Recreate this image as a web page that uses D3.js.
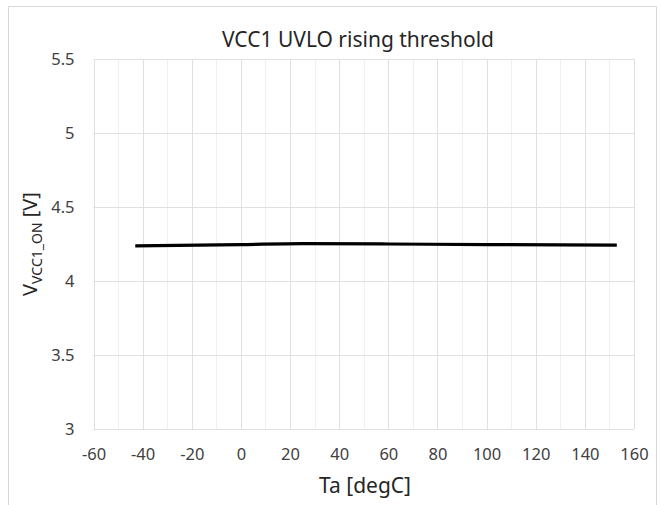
<!DOCTYPE html>
<html>
<head>
<meta charset="utf-8">
<script src="https://cdn.jsdelivr.net/npm/d3@7"></script>
<style>
  html, body { margin: 0; padding: 0; background: #fff; }
  svg { display: block; font-family: "Noto Sans", "Open Sans", sans-serif; }
</style>
</head>
<body>
<svg id="chart" width="661" height="505"></svg>
<script>
const chartTitle = "VCC1 UVLO rising threshold";
const xTitle = "Ta [degC]";
const temps = [-43, 0, 25, 60, 100, 153];
const vcc1On = [4.238, 4.246, 4.252, 4.250, 4.246, 4.243];
const xTicks = [-60, -40, -20, 0, 20, 40, 60, 80, 100, 120, 140, 160];
const xMinorTicks = d3.range(-50, 160, 20);
const yTicks = [3, 3.5, 4, 4.5, 5, 5.5];

const svg = d3.select("#chart");
const W = 661, H = 505;
const plot = { left: 93.5, right: 634, top: 59, bottom: 429 };

// outer frame
svg.append("path")
  .attr("d", `M8.5,${H} L8.5,6.5 L656.5,6.5 L656.5,${H}`)
  .attr("fill", "none").attr("stroke", "#d9d9d9").attr("stroke-width", 1);

const x = d3.scaleLinear().domain([-60, 160]).range([plot.left, plot.right]);
const y = d3.scaleLinear().domain([3, 5.5]).range([plot.bottom, plot.top]);

// minor vertical gridlines
svg.append("g").selectAll("line").data(xMinorTicks).join("line")
  .attr("x1", d => Math.round(x(d)) + 0.5).attr("x2", d => Math.round(x(d)) + 0.5)
  .attr("y1", plot.top).attr("y2", plot.bottom)
  .attr("stroke", "#f0f0f0").attr("stroke-width", 1);

// major vertical gridlines
svg.append("g").selectAll("line").data(xTicks).join("line")
  .attr("x1", d => Math.round(x(d)) + 0.5).attr("x2", d => Math.round(x(d)) + 0.5)
  .attr("y1", plot.top).attr("y2", plot.bottom)
  .attr("stroke", "#e0e0e0").attr("stroke-width", 1);

// horizontal gridlines
svg.append("g").selectAll("line").data(yTicks).join("line")
  .attr("x1", plot.left).attr("x2", plot.right)
  .attr("y1", d => Math.round(y(d)) + 0.5).attr("y2", d => Math.round(y(d)) + 0.5)
  .attr("stroke", "#e0e0e0").attr("stroke-width", 1);

// axes (labels only)
const xAxis = svg.append("g").attr("transform", `translate(0,${plot.bottom})`)
  .call(d3.axisBottom(x).tickValues(xTicks).tickSize(0).tickPadding(19).tickFormat(d => String(d)));
xAxis.select(".domain").remove();
xAxis.selectAll("text").attr("font-size", 16.5).attr("fill", "#404040")
  .attr("font-family", "\"Noto Sans\", sans-serif");

const yAxis = svg.append("g").attr("transform", `translate(${plot.left},0)`)
  .call(d3.axisLeft(y).tickValues(yTicks).tickSize(0).tickPadding(19).tickFormat(d => String(d)));
yAxis.select(".domain").remove();
yAxis.selectAll("text").attr("font-size", 16.5).attr("fill", "#404040")
  .attr("font-family", "\"Noto Sans\", sans-serif");

// data line
const line = d3.line().x((d, i) => x(temps[i])).y(d => y(d)).curve(d3.curveMonotoneX);
svg.append("path").datum(vcc1On)
  .attr("d", line).attr("fill", "none")
  .attr("stroke", "#000").attr("stroke-width", 3.2).attr("stroke-linecap", "butt");

// title
svg.append("text").attr("x", 358).attr("y", 47).attr("text-anchor", "middle")
  .attr("font-size", 21).attr("fill", "#262626").text(chartTitle);

// x title
svg.append("text").attr("x", 365).attr("y", 493).attr("text-anchor", "middle")
  .attr("font-size", 21).attr("fill", "#262626").text(xTitle);

// y title with subscript
const yt = svg.append("text").attr("transform", "translate(37,244) rotate(-90)")
  .attr("text-anchor", "middle").attr("font-size", 20).attr("fill", "#262626");
yt.append("tspan").text("V");
yt.append("tspan").attr("font-size", 14).attr("dy", 5).text("VCC1_ON");
yt.append("tspan").attr("dy", -5).text(" [V]");
</script>
</body>
</html>
